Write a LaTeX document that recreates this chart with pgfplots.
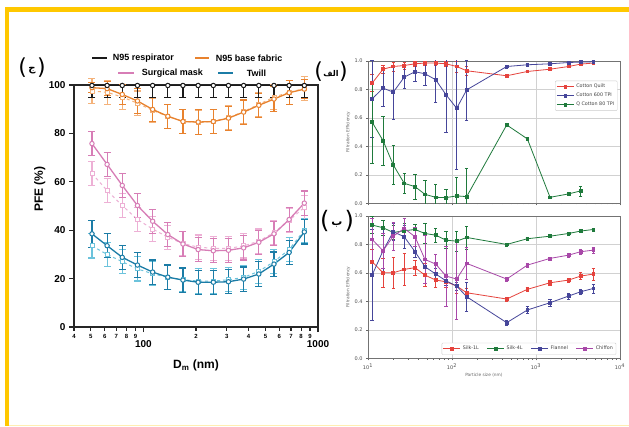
\documentclass[border=0pt]{standalone}
\usepackage{pgfplots}
\pgfplotsset{compat=1.18}
\usepackage{fontspec}
\setmainfont{Liberation Sans}
\newfontfamily\mpl{DejaVu Sans}
\newfontfamily\arabicfont[Script=Arabic]{DejaVu Sans}
\TeXXeTstate=1

\definecolor{ybord}{HTML}{FFC800}
\definecolor{cblack}{HTML}{1A1A1A}
\definecolor{corange}{HTML}{E8822E}
\definecolor{lorange}{HTML}{F4B27A}
\definecolor{cpink}{HTML}{D77DB6}
\definecolor{lpink}{HTML}{EDB0D5}
\definecolor{cteal}{HTML}{1B7CA6}
\definecolor{lteal}{HTML}{6CC3DC}
\definecolor{mred}{HTML}{E5433D}
\definecolor{mblue}{HTML}{46469A}
\definecolor{mgreen}{HTML}{1F7A3C}
\definecolor{mpurple}{HTML}{A848A8}

\pgfplotsset{
  lerr/.style={error bars/y dir=both, error bars/y explicit,
    error bars/error bar style={line width=1.1pt, solid},
    error bars/error mark options={rotate=90, mark size=3.5pt, line width=1.1pt, solid}},
  lmain/.style={line width=1.3pt, mark=*, mark size=2.2pt,
    mark options={fill=white, line width=1pt, solid}},
  llight/.style={line width=1pt, dashed, mark=square*, mark size=2pt,
    mark options={fill=white, line width=0.9pt, solid}},
  merr/.style={line width=0.8pt, mark=square*, mark size=1.4pt,
    error bars/y dir=both, error bars/y explicit,
    error bars/error bar style={line width=0.5pt},
    error bars/error mark options={rotate=90, mark size=1.7pt, line width=0.5pt}},
}

\begin{document}
\begin{tikzpicture}[x=1pt,y=1pt]
\fill[white] (0,0) rectangle (629,426);
\useasboundingbox (0,0) rectangle (629,426);
% yellow frame
\fill[ybord] (5,414) rectangle (629,419);
\fill[ybord] (5,0) rectangle (9,419);
\draw[ybord!30, line width=1pt] (9,0.5) -- (629,0.5);

% ---------------- left panel
\begin{axis}[
  at={(74pt,99pt)}, anchor=south west, scale only axis, width=244pt, height=242pt,
  axis lines=box,
  xmode=log, xmin=40, xmax=1000, ymin=0, ymax=100, clip=false,
  axis line style={line width=1.2pt, black!85},
  tick style={line width=1.1pt, black!85},
  tick align=outside, xtick pos=left, ytick pos=left,
  major tick length=5pt,
  ytick={0,20,40,60,80,100},
  xtick={100,1000}, xticklabels={100,1000},
  minor xtick={},
  extra x ticks={40,50,60,70,80,90,200,300,400,500,600,700,800,900},
  extra x tick labels={4,5,6,7,8,9,2,3,4,5,6,7,8,9},
  extra x tick style={major tick length=3.5pt,
    xticklabel style={yshift=5pt, font=\bfseries\fontsize{6}{6}\selectfont}},
  xticklabel style={font=\bfseries\fontsize{10}{10}\selectfont, yshift=-5pt},
  yticklabel style={font=\bfseries\fontsize{10}{10}\selectfont},
  /pgf/number format/assume math mode=true,
  xlabel={D\textsubscript{m} (nm)}, ylabel={PFE (\%)},
  label style={font=\bfseries\fontsize{12}{12}\selectfont},
  xlabel style={at={(axis description cs:0.5,-0.16)}, anchor=center},
  ylabel style={at={(axis description cs:-0.14,0.57)}, anchor=center},
]
% light (second) measurements
\addplot[llight, lteal, lerr] coordinates {
 (50.7,33.5)+-(0,5) (61.9,30)+-(0,5) (75.6,27)+-(0,5) (92.4,24)+-(0,5)
 (112.9,22)+-(0,5) (137.9,20.5)+-(0,5) (168.4,19.5)+-(0,5) (205.7,19)+-(0,5)
 (251.3,19)+-(0,5) (306.9,19.5)+-(0,5) (374.9,20.5)+-(0,5) (458.0,23)+-(0,5)
 (559.4,27)+-(0,5) (683.3,32)+-(0,5) (834.7,40)+-(0,5)};
\addplot[llight, lpink, lerr] coordinates {
 (50.7,63.4)+-(0,5) (61.9,56.4)+-(0,5) (75.6,50.2)+-(0,5) (92.4,44.4)+-(0,5)
 (112.9,40.5)+-(0,5) (137.9,37.1)+-(0,5) (168.4,34.5)+-(0,5) (205.7,33)+-(0,5)
 (251.3,32.5)+-(0,5) (306.9,32.5)+-(0,5) (374.9,33.5)+-(0,5) (458.0,35.5)+-(0,5)
 (559.4,39)+-(0,5) (683.3,44)+-(0,5) (834.7,49.5)+-(0,5)};
\addplot[llight, lorange, lerr] coordinates {
 (50.7,97.5)+-(0,5) (61.9,97)+-(0,5) (75.6,95)+-(0,5) (92.4,92.5)+-(0,5)
 (112.9,89.5)+-(0,5) (137.9,87)+-(0,5) (168.4,85)+-(0,5) (205.7,84.5)+-(0,5)
 (251.3,85)+-(0,5) (306.9,86.5)+-(0,5) (374.9,89)+-(0,5) (458.0,92)+-(0,5)
 (559.4,95)+-(0,5) (683.3,97)+-(0,5) (834.7,98.5)+-(0,5)};
% main measurements
\addplot[lmain, cteal, lerr] coordinates {
 (50.7,38.5)+-(0,5.5) (61.9,33.6)+-(0,5) (75.6,28.8)+-(0,5) (92.4,25.6)+-(0,5)
 (112.9,22.7)+-(0,5) (137.9,20.6)+-(0,5) (168.4,19.4)+-(0,5) (205.7,18.5)+-(0,5)
 (251.3,18.5)+-(0,5) (306.9,18.7)+-(0,5) (374.9,19.8)+-(0,5) (458.0,21.9)+-(0,5)
 (559.4,26.0)+-(0,5) (683.3,30.8)+-(0,5) (834.7,39.3)+-(0,5)};
\addplot[lmain, cpink, lerr] coordinates {
 (50.7,75.8)+-(0,5) (61.9,67.2)+-(0,5) (75.6,58.5)+-(0,5) (92.4,50.2)+-(0,5)
 (112.9,43.7)+-(0,5) (137.9,38.2)+-(0,5) (168.4,34.3)+-(0,5) (205.7,32.0)+-(0,5)
 (251.3,31.5)+-(0,5) (306.9,31.7)+-(0,5) (374.9,32.7)+-(0,5) (458.0,35.0)+-(0,5)
 (559.4,38.5)+-(0,5) (683.3,44.4)+-(0,5) (834.7,51.2)+-(0,5)};
\addplot[lmain, corange, lerr] coordinates {
 (50.7,98.9)+-(0,2) (61.9,98.5)+-(0,3) (75.6,96.1)+-(0,4) (92.4,93.4)+-(0,5)
 (112.9,89.9)+-(0,5) (137.9,87.1)+-(0,5) (168.4,84.9)+-(0,5) (205.7,84.7)+-(0,5)
 (251.3,84.9)+-(0,5) (306.9,86.3)+-(0,5) (374.9,88.8)+-(0,5) (458.0,91.6)+-(0,5)
 (559.4,94.2)+-(0,5) (683.3,96.8)+-(0,5) (834.7,98.3)+-(0,4)};
\addplot[lmain, cblack, lerr, error bars/y dir=minus] coordinates {
 (50.7,99.8)-=(0,5) (61.9,99.8)-=(0,5) (75.6,99.8)-=(0,5) (92.4,99.8)-=(0,5)
 (112.9,99.8)-=(0,5) (137.9,99.8)-=(0,5) (168.4,99.8)-=(0,5) (205.7,99.8)-=(0,5)
 (251.3,99.8)-=(0,5) (306.9,99.8)-=(0,5) (374.9,99.8)-=(0,5) (458.0,99.8)-=(0,5)
 (559.4,99.8)-=(0,5) (683.3,99.8)-=(0,5) (834.7,99.8)-=(0,5)};
\end{axis}

% legend of the left panel
\begin{scope}[font=\bfseries\fontsize{9}{9}\selectfont, line width=1.6pt]
\draw[cblack] (92,367.7) -- (107,367.7);
\node[anchor=west, inner sep=0] at (112,367.7) {N95 respirator};
\draw[corange] (195,367.7) -- (209,367.7);
\node[anchor=west, inner sep=0] at (215,367.7) {N95 base fabric};
\draw[cpink] (118,352.7) -- (134,352.7);
\node[anchor=west, inner sep=0] at (141,352.7) {Surgical mask};
\draw[cteal] (218,352.7) -- (233,352.7);
\node[anchor=west, inner sep=0] at (246,352.7) {Twill};
\end{scope}

% ---------------- top right panel
\begin{axis}[at={(368pt,222.7pt)}, anchor=south west,
  scale only axis, width=252pt, height=142.5pt,
  xmode=log, xmin=10, xmax=10000, ymin=0, ymax=1,
  ytick={0,0.2,0.4,0.6,0.8,1},
  yticklabel style={/pgf/number format/fixed, /pgf/number format/fixed zerofill, /pgf/number format/precision=1},
  xtick={10,100,1000,10000}, xticklabels={},
  grid=major, major grid style={black!18, line width=0.5pt},
  axis line style={black!55, line width=0.5pt},
  tick style={black!60, line width=0.4pt},
  tick align=outside, xtick pos=left, ytick pos=left,
  major tick length=2pt, minor tick length=1.2pt,
  tick label style={font=\mpl\fontsize{5}{6}\selectfont, text=black!70},
  /pgf/number format/assume math mode=true,
  label style={font=\mpl\fontsize{4.3}{5}\selectfont, text=black!60},
  ylabel={Filtration Efficiency},
  ylabel style={at={(axis description cs:-0.079,0.5)}, anchor=center},
  legend style={font=\mpl\fontsize{4.8}{5.6}\selectfont, draw=black!20,
    rounded corners=1pt, inner sep=1.2pt, text=black!75, fill=white,
    at={(0.99,0.86)}, anchor=north east},
  legend cell align=left,
]
\addplot[merr, mred] coordinates {
 (11.2,0.843)+-(0,0.06) (15.1,0.941)+-(0,0.03) (20.0,0.960)+-(0,0.03) (27.0,0.967)+-(0,0.025)
 (36.3,0.979)+-(0,0.02) (47.6,0.984)+-(0,0.015) (64,0.984)+-(0,0.015) (85,0.979)+-(0,0.02)
 (113.7,0.960)+-(0,0.04) (149.6,0.930)+-(0,0.03) (448,0.895)+-(0,0.01) (789,0.925)+-(0,0.008)
 (1469,0.941)+-(0,0.008) (2450,0.960)+-(0,0.008) (3404,0.977)+-(0,0.008) (4810,0.984)+-(0,0.008)};
\addlegendentry{Cotton Quilt}
\addplot[merr, mblue] coordinates {
 (11.2,0.733)+-(0,0.27) (15.1,0.808)+-(0,0.13) (20.0,0.780)+-(0,0.19) (27.0,0.885)+-(0,0.08)
 (36.3,0.923)+-(0,0.07) (47.6,0.909)+-(0,0.08) (64,0.867)+-(0,0.16) (85,0.761)+-(0,0.26)
 (113.7,0.667)+-(0,0.43) (149.6,0.796)+-(0,0.21) (448,0.960)+-(0,0.01) (789,0.972)+-(0,0.01)
 (1469,0.979)+-(0,0.008) (2450,0.988)+-(0,0.008) (3404,0.991)+-(0,0.008) (4810,0.993)+-(0,0.008)};
\addlegendentry{Cotton 600 TPI}
\addplot[merr, mgreen] coordinates {
 (11.2,0.569)+-(0,0.29) (15.1,0.44)+-(0,0.17) (20.0,0.269)+-(0,0.135) (27.0,0.14)+-(0,0.07)
 (36.3,0.117)+-(0,0.09) (47.6,0.063)+-(0,0.1) (64,0.042)+-(0,0.09) (85,0.04)+-(0,0.06)
 (113.7,0.052)+-(0,0.13) (149.6,0.047)+-(0,0.2) (448,0.55)+-(0,0.005) (789,0.452)+-(0,0.005)
 (1469,0.042)+-(0,0.008) (2450,0.066)+-(0,0.008) (3404,0.087)+-(0,0.035)};
\addlegendentry{Q Cotton 80 TPI}
\end{axis}

% ---------------- bottom right panel
\begin{axis}[at={(368pt,67.7pt)}, anchor=south west,
  scale only axis, width=252pt, height=142.5pt,
  xmode=log, xmin=10, xmax=10000, ymin=0, ymax=1,
  ytick={0,0.2,0.4,0.6,0.8,1},
  yticklabel style={/pgf/number format/fixed, /pgf/number format/fixed zerofill, /pgf/number format/precision=1},
  xtick={10,100,1000,10000},
  xticklabels={10\textsuperscript{1},10\textsuperscript{2},10\textsuperscript{3},10\textsuperscript{4}},
  grid=major, major grid style={black!18, line width=0.5pt},
  axis line style={black!55, line width=0.5pt},
  tick style={black!60, line width=0.4pt},
  tick align=outside, xtick pos=left, ytick pos=left,
  major tick length=2pt, minor tick length=1.2pt,
  tick label style={font=\mpl\fontsize{5}{6}\selectfont, text=black!70},
  /pgf/number format/assume math mode=true,
  label style={font=\mpl\fontsize{4.3}{5}\selectfont, text=black!60},
  ylabel={Filtration Efficiency},
  ylabel style={at={(axis description cs:-0.079,0.5)}, anchor=center},
  xlabel={Particle size (nm)},
  xlabel style={at={(axis description cs:0.46,-0.117)}, anchor=center},
  legend columns=4,
  legend style={font=\mpl\fontsize{4.8}{5.6}\selectfont, draw=black!20,
    rounded corners=1pt, inner sep=1.2pt, text=black!75, fill=white,
    at={(0.985,0.025)}, anchor=south east,
    /tikz/every even column/.append style={column sep=6pt}},
  legend cell align=left,
]
\addplot[merr, mred] coordinates {
 (11.2,0.678)+-(0,0.09) (15.1,0.60)+-(0,0.10) (20.0,0.60)+-(0,0.11) (27.0,0.624)+-(0,0.11)
 (36.3,0.636)+-(0,0.05) (47.6,0.584)+-(0,0.08) (64,0.549)+-(0,0.05) (85,0.537)+-(0,0.04)
 (113.7,0.507)+-(0,0.05) (149.6,0.46)+-(0,0.03) (448,0.416)+-(0,0.015) (789,0.484)+-(0,0.015)
 (1469,0.530)+-(0,0.015) (2450,0.549)+-(0,0.015) (3404,0.577)+-(0,0.025) (4810,0.591)+-(0,0.04)};
\addlegendentry{Silk-1L}
\addplot[merr, mgreen] coordinates {
 (11.2,0.935)+-(0,0.06) (15.1,0.916)+-(0,0.05) (20.0,0.883)+-(0,0.05) (27.0,0.895)+-(0,0.05)
 (36.3,0.904)+-(0,0.04) (47.6,0.876)+-(0,0.07) (64,0.864)+-(0,0.05) (85,0.829)+-(0,0.06)
 (113.7,0.822)+-(0,0.07) (149.6,0.848)+-(0,0.08) (448,0.799)+-(0,0.01) (789,0.839)+-(0,0.01)
 (1469,0.857)+-(0,0.01) (2450,0.876)+-(0,0.01) (3404,0.893)+-(0,0.01) (4810,0.904)+-(0,0.01)};
\addlegendentry{Silk-4L}
\addplot[merr, mblue] coordinates {
 (11.2,0.584)+-(0,0.32) (15.1,0.755)+-(0,0.15) (20.0,0.888)+-(0,0.06) (27.0,0.853)+-(0,0.08)
 (36.3,0.748)+-(0,0.04) (47.6,0.643)+-(0,0.05) (64,0.591)+-(0,0.04) (85,0.544)+-(0,0.03)
 (113.7,0.507)+-(0,0.03) (149.6,0.432)+-(0,0.1) (448,0.25)+-(0,0.02) (789,0.339)+-(0,0.025)
 (1469,0.39)+-(0,0.025) (2450,0.437)+-(0,0.02) (3404,0.467)+-(0,0.015) (4810,0.49)+-(0,0.03)};
\addlegendentry{Flannel}
\addplot[merr, mpurple] coordinates {
 (11.2,0.834)+-(0,0.15) (15.1,0.755)+-(0,0.12) (20.0,0.857)+-(0,0.1) (27.0,0.911)+-(0,0.07)
 (36.3,0.853)+-(0,0.07) (47.6,0.694)+-(0,0.17) (64,0.661)+-(0,0.07) (85,0.577)+-(0,0.21)
 (113.7,0.556)+-(0,0.28) (149.6,0.666)+-(0,0.11) (448,0.556)+-(0,0.015) (789,0.654)+-(0,0.015)
 (1469,0.701)+-(0,0.01) (2450,0.724)+-(0,0.015) (3404,0.748)+-(0,0.02) (4810,0.759)+-(0,0.02)};
\addlegendentry{Chiffon}
\end{axis}

% panel letters
\node[font=\mpl\fontsize{22}{22}\selectfont, inner sep=0] at (32,358)
  {(\hspace{1.5pt}\raisebox{3pt}{\arabicfont\bfseries\fontsize{10}{10}\selectfont\beginR ج\endR}\hspace{1.5pt})};
\node[font=\mpl\fontsize{22}{22}\selectfont, inner sep=0] at (331,354)
  {(\hspace{0.5pt}\raisebox{2pt}{\arabicfont\bfseries\fontsize{8}{8}\selectfont\beginR الف\endR}\hspace{0.5pt})};
\node[font=\mpl\fontsize{24}{24}\selectfont, inner sep=0] at (337,205)
  {(\hspace{2pt}\raisebox{3pt}{\arabicfont\bfseries\fontsize{11}{11}\selectfont\beginR ب\endR}\hspace{2pt})};
\end{tikzpicture}
\end{document}
